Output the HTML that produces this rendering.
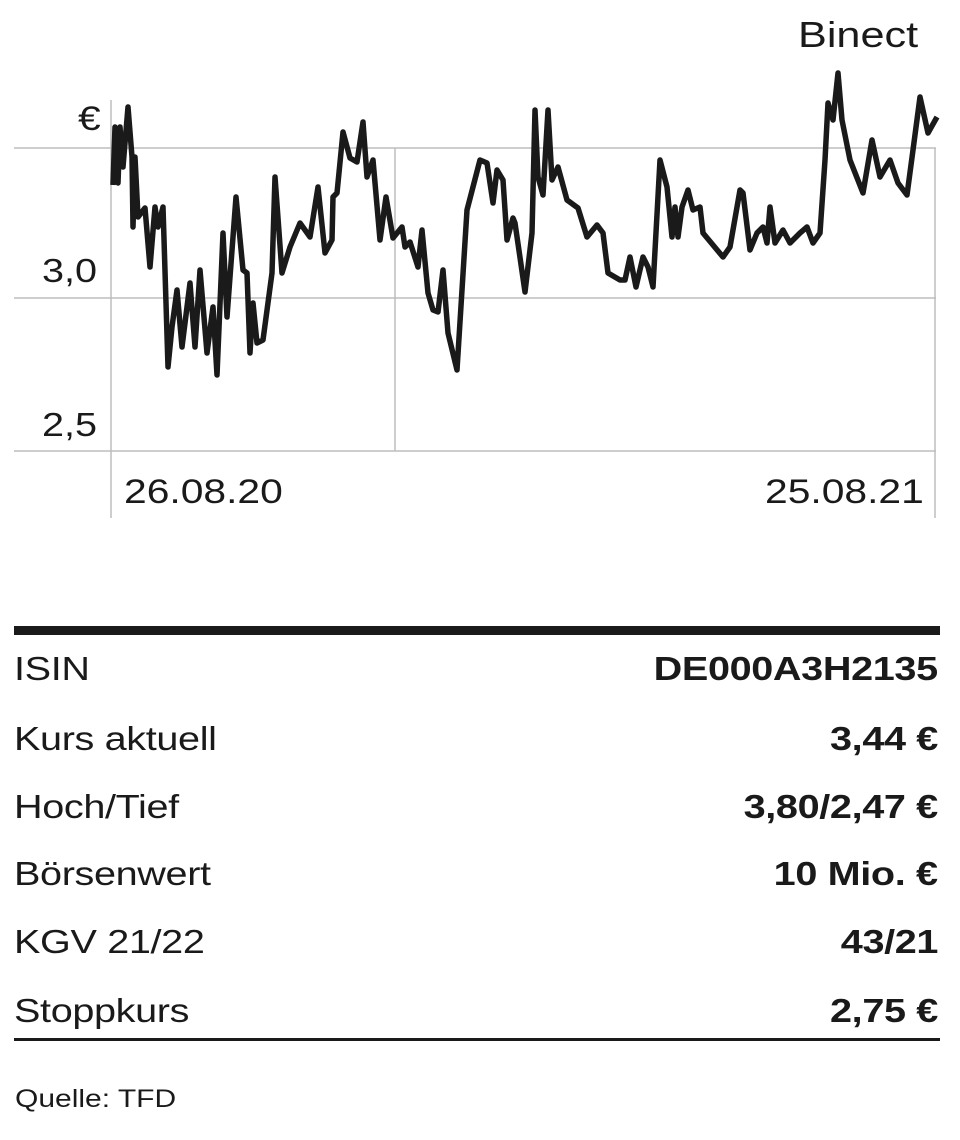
<!DOCTYPE html>
<html><head><meta charset="utf-8"><style>
html,body{margin:0;padding:0;background:#fff;}
body{width:960px;height:1140px;position:relative;overflow:hidden;font-family:"Liberation Sans",sans-serif;color:#1a1a1a;}
.t{position:absolute;white-space:nowrap;transform:scaleX(1.2);transform-origin:0 0;}
.tr{position:absolute;white-space:nowrap;transform:scaleX(1.2);transform-origin:100% 0;}
.row{position:absolute;left:14px;width:924px;height:40px;font-size:33px;}
.row .l{position:absolute;left:0;top:0;letter-spacing:-0.3px;transform:scaleX(1.2);transform-origin:0 0;white-space:nowrap;}
.row .r{position:absolute;right:0;top:0;font-weight:bold;letter-spacing:-0.3px;transform:scaleX(1.2);transform-origin:100% 0;white-space:nowrap;}
</style></head><body>
<svg width="960" height="560" style="position:absolute;left:0;top:0">
<g stroke="#bdbdbd" stroke-width="1.5" fill="none">
<line x1="14" y1="148" x2="936" y2="148"/>
<line x1="14" y1="298" x2="936" y2="298"/>
<line x1="14" y1="451" x2="936" y2="451"/>
<line x1="111" y1="100" x2="111" y2="518"/>
<line x1="395" y1="148" x2="395" y2="451"/>
<line x1="935" y1="148" x2="935" y2="518"/>
</g>
<polyline fill="none" stroke="#1a1a1a" stroke-width="5.5" stroke-linejoin="round" points="113,185 115,127 118,183 120,127 123,167 128,107 132,157 133,227 135,157 138,217 145,208 150,267 155,207 158,227 163,207 168,367 172,327 177,290 182,347 190,283 195,347 200,270 207,353 213,307 217,375 223,233 227,317 236,197 243,270 247,273 250,353 253,303 257,343 263,340 272,273 275,177 282,273 290,247 300,223 310,237 318,187 325,253 332,240 333,197 337,193 343,132 350,158 357,162 363,122 367,177 373,160 380,240 386,197 393,238 402,227 405,247 410,242 418,267 422,230 428,293 433,310 438,312 443,270 448,333 457,370 467,210 480,160 487,163 493,203 497,170 503,180 507,240 513,218 515,223 525,292 532,233 535,110 538,177 543,195 548,110 552,180 558,167 567,200 578,208 587,237 597,225 603,233 608,273 620,280 625,280 630,257 636,287 643,257 648,267 653,287 660,160 667,187 672,237 675,207 678,237 682,207 688,190 693,210 700,207 703,233 723,257 730,247 740,190 743,193 750,250 757,233 763,227 767,243 770,207 775,243 783,230 790,243 800,233 807,227 813,243 820,233 825,160 828,103 833,120 838,73 842,120 850,160 863,193 872,140 880,177 890,160 898,183 907,195 913,150 920,97 928,133 937,117"/>
</svg>
<div class="t" style="left:798px;top:14px;font-size:36px;">Binect</div>
<div class="t" style="left:78px;top:100px;font-size:34px;">€</div>
<div class="t" style="left:42px;top:252px;font-size:33px;">3,0</div>
<div class="t" style="left:42px;top:406px;font-size:33px;">2,5</div>
<div class="t" style="left:124px;top:473px;font-size:34px;">26.08.20</div>
<div class="t" style="left:765px;top:473px;font-size:34px;">25.08.21</div>
<div style="position:absolute;left:14px;top:626px;width:926px;height:9px;background:#1a1a1a;"></div>
<div class="row" style="top:650px"><span class="l">ISIN</span><span class="r">DE000A3H2135</span></div>
<div class="row" style="top:720px"><span class="l">Kurs aktuell</span><span class="r">3,44 €</span></div>
<div class="row" style="top:788px"><span class="l">Hoch/Tief</span><span class="r">3,80/2,47 €</span></div>
<div class="row" style="top:855px"><span class="l">Börsenwert</span><span class="r">10 Mio. €</span></div>
<div class="row" style="top:923px"><span class="l">KGV 21/22</span><span class="r">43/21</span></div>
<div class="row" style="top:992px"><span class="l">Stoppkurs</span><span class="r">2,75 €</span></div>
<div style="position:absolute;left:14px;top:1038px;width:926px;height:3px;background:#1a1a1a;"></div>
<div class="t" style="left:15px;top:1085px;font-size:25px;">Quelle: TFD</div>
</body></html>
